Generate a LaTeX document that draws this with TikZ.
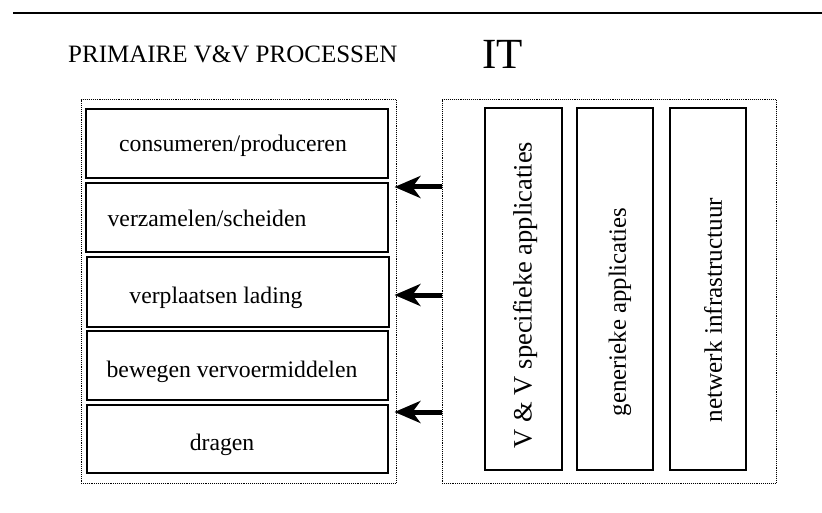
\documentclass[tikz,border=0pt]{standalone}
\usepackage{fontspec}
\setmainfont{Liberation Serif}
\usetikzlibrary{arrows.meta}
\begin{document}
\begin{tikzpicture}[x=1pt,y=-1pt,
  frame/.style={draw, densely dotted, line width=0.9pt, inner sep=0pt},
  procbox/.style={draw, line width=1.4pt, inner sep=0pt},
  proctext/.style={font=\fontsize{23.7}{28}\selectfont, anchor=base, inner sep=0pt},
  ittext/.style={font=\fontsize{25.5}{30}\selectfont, rotate=90, inner sep=0pt},
  bigarrow/.style={line width=5pt, shorten >=-2pt, -{Stealth[length=26pt,width=22pt,inset=8pt]}}
]
\useasboundingbox (0,0) rectangle (822,513);
% top rule
\draw[line width=2.4pt] (13,13) -- (822,13);
% titles
\node[anchor=base west, inner sep=0pt, font=\fontsize{25}{30}\selectfont] (title) at (68,63) {PRIMAIRE V\&V PROCESSEN};
\node[anchor=base west, inner sep=0pt, font=\fontsize{43}{48}\selectfont] (ittitle) at (482,69) {IT};
% frames
\node[frame, minimum width=315pt, minimum height=384pt] (lframe) at (238.5,291) {};
\node[frame, minimum width=334pt, minimum height=384pt] (rframe) at (609,291) {};
% process boxes
\node[procbox, minimum width=302pt, minimum height=69pt] (b1) at (237,143.5) {};
\node[procbox, minimum width=302pt, minimum height=69pt] (b2) at (237,217.5) {};
\node[procbox, minimum width=302pt, minimum height=70pt] (b3) at (238,292) {};
\node[procbox, minimum width=301pt, minimum height=69pt] (b4) at (237.5,365.5) {};
\node[procbox, minimum width=301pt, minimum height=68pt] (b5) at (237.5,439) {};
\node[proctext] (t1) at (233,152) {consumeren/produceren};
\node[proctext] (t2) at (207,227) {verzamelen/scheiden};
\node[proctext] (t3) at (216,303) {verplaatsen lading};
\node[proctext] (t4) at (232,377) {bewegen vervoermiddelen};
\node[proctext] (t5) at (222,450) {dragen};
% IT boxes
\node[procbox, minimum width=77pt, minimum height=362pt] (i1) at (523.5,289) {};
\node[procbox, minimum width=76pt, minimum height=362pt] (i2) at (615,289) {};
\node[procbox, minimum width=76pt, minimum height=362pt] (i3) at (708,289) {};
\node[ittext, font=\fontsize{26.5}{30}\selectfont] (it1) at (525,295) {V \& V specifieke applicaties};
\node[ittext, font=\fontsize{24.8}{30}\selectfont] (it2) at (620,312) {generieke applicaties};
\node[ittext, font=\fontsize{25.2}{30}\selectfont] (it3) at (713,310) {netwerk infrastructuur};
% arrows
\coordinate (ya1) at (0,187);
\coordinate (ya2) at (0,295);
\coordinate (ya3) at (0,412);
\draw[bigarrow] (rframe.west |- ya1) -- (lframe.east |- ya1);
\draw[bigarrow] (rframe.west |- ya2) -- (lframe.east |- ya2);
\draw[bigarrow] (rframe.west |- ya3) -- (lframe.east |- ya3);
\end{tikzpicture}
\end{document}
